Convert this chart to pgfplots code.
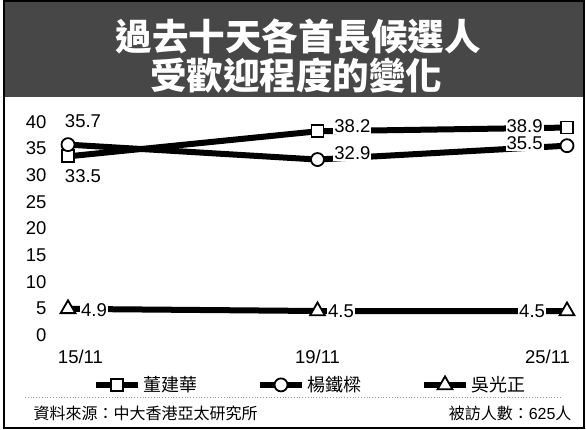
\documentclass[border=0pt]{standalone}
\usepackage{fontspec}
\setmainfont{Liberation Sans}
\newfontfamily\cjk{Noto Sans CJK TC}
\usepackage{pgfplots}
\pgfplotsset{compat=1.18}

\begin{document}
\begin{tikzpicture}
\useasboundingbox (0pt,0pt) rectangle (586pt,430pt);
% title band
\fill[black!72] (5pt,333pt) rectangle (583pt,428pt);
\node[white, font=\cjk\bfseries\fontsize{36.5}{40}\selectfont] at (298pt,393pt) {過去十天各首長候選人};
\node[white, font=\cjk\bfseries\fontsize{36.5}{40}\selectfont] at (296pt,354pt) {受歡迎程度的變化};

\begin{axis}[
  at={(68pt,95pt)}, anchor=south west,
  scale only axis, width=499pt, height=213.3pt,
  xmin=0, xmax=2, ymin=0, ymax=40,
  clip=false,
  axis line style={draw=none},
  major tick length=0pt,
  xtick={0,1,2},
  xticklabels={\makebox[0pt][l]{\hspace*{-10pt}15/11}, 19/11, \makebox[0pt][r]{25/11\hspace*{-3pt}}},
  ytick={0,5,...,40},
  /pgf/number format/assume math mode=true,
  tick label style={font=\fontsize{18.5}{20}\selectfont},
  xticklabel style={yshift=-12pt},
  yticklabel style={xshift=-18pt},
  legend style={at={(0.485,-0.234)}, anchor=center, draw=none, fill=none,
    font=\cjk\fontsize{18}{20}\selectfont,
    /tikz/every even column/.append style={column sep=58pt}},
  legend columns=3,
  legend image code/.code={\draw[mark repeat=2, mark phase=2, #1] plot coordinates {(0pt,0pt) (21pt,0pt) (42pt,0pt)};},
  every axis plot/.append style={black, line width=6pt, mark options={fill=white, line width=1.8pt, solid}},
]
\addplot[mark=square*, mark size=6pt] coordinates {(0,33.5) (1,38.2) (2,38.9)};
\addlegendentry{董建華}
\addplot[mark=*, mark size=6.5pt] coordinates {(0,35.7) (1,32.9) (2,35.5)};
\addlegendentry{楊鐵樑}
\addplot[mark=triangle*, mark size=8.5pt] coordinates {(0,4.9) (1,4.5) (2,4.5)};
\addlegendentry{吳光正}

\begin{scope}[every node/.style={fill=white, inner sep=1pt, font=\fontsize{18.5}{20}\selectfont}]
\node at (axis cs:0.06,40.1) {35.7};
\node at (axis cs:0.06,29.8) {33.5};
\node at (axis cs:0.104,4.6) {4.9};
\node at (axis cs:1.14,39.2) {38.2};
\node at (axis cs:1.14,34.1) {32.9};
\node at (axis cs:1.094,4.4) {4.5};
\node at (axis cs:1.83,39.2) {38.9};
\node at (axis cs:1.83,36.0) {35.5};
\node at (axis cs:1.86,4.4) {4.5};
\end{scope}
\end{axis}

% source row
\draw[black!40, dotted, line width=0.8pt] (25pt,33pt) -- (560pt,33pt);
\node[anchor=west, font=\cjk\fontsize{16}{18}\selectfont] at (30pt,17pt) {資料來源：中大香港亞太研究所};
\node[anchor=east, font=\fontsize{16}{18}\selectfont] at (575pt,17pt) {{\cjk 被訪人數：}625{\cjk 人}};
% frame
\draw[line width=2.5pt] (4pt,2pt) rectangle (584pt,429pt);
\end{tikzpicture}
\end{document}
